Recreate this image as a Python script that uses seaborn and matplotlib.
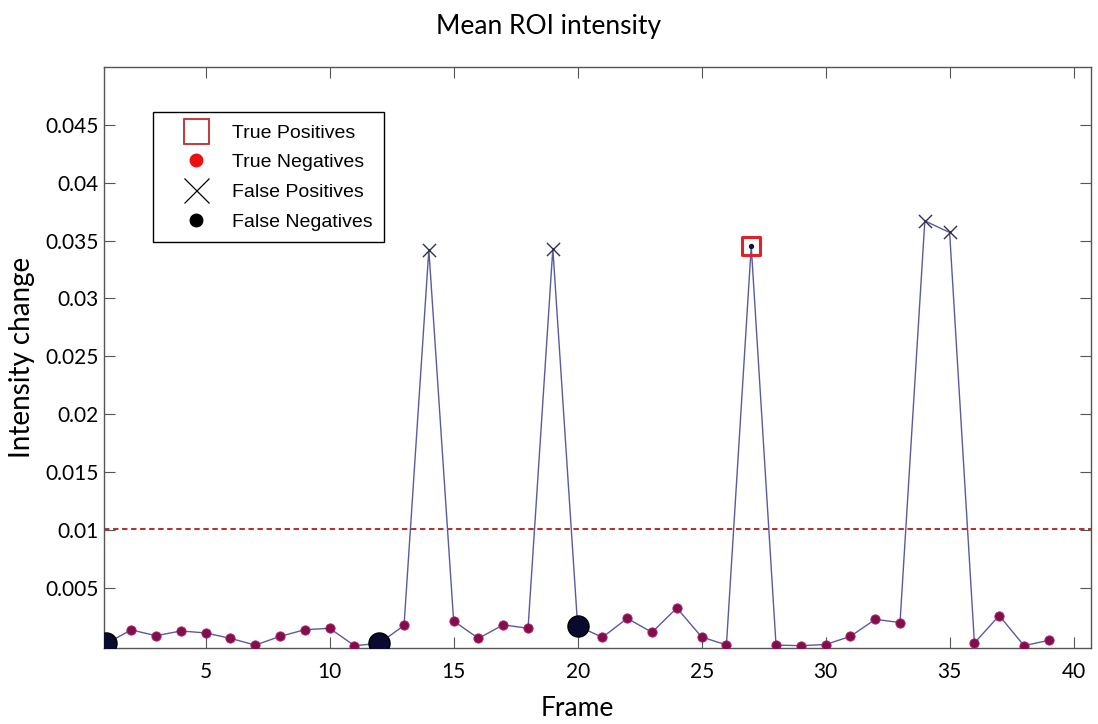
import numpy as np
import pandas as pd
import matplotlib
matplotlib.use('Agg')
import matplotlib.pyplot as plt
from matplotlib.lines import Line2D
import seaborn as sns

# dados
frames = list(range(1, 40))
intensity = [0.0002, 0.00136, 0.00086, 0.00127, 0.0011, 0.00063, 0.00005, 0.0008, 0.00138, 0.0015,
             0.0, 0.0002, 0.00175, 0.0342, 0.00213, 0.00063, 0.0018, 0.0015, 0.0343, 0.0017,
             0.00072, 0.00236, 0.00115, 0.00326, 0.00075, 0.00006, 0.0345, 0.00005, 0.0, 0.0001,
             0.0008, 0.00227, 0.002, 0.0367, 0.0357, 0.00023, 0.0026, 0.0, 0.00046]
classes = ['FN', 'TN', 'TN', 'TN', 'TN', 'TN', 'TN', 'TN', 'TN', 'TN',
           'TN', 'FN', 'TN', 'FP', 'TN', 'TN', 'TN', 'TN', 'FP', 'FN',
           'TN', 'TN', 'TN', 'TN', 'TN', 'TN', 'TP', 'TN', 'TN', 'TN',
           'TN', 'TN', 'TN', 'FP', 'FP', 'TN', 'TN', 'TN', 'TN']
threshold = 0.0101
legend_labels = ['True Positives', 'True Negatives', 'False Positives', 'False Negatives']

df = pd.DataFrame({'frame': frames, 'intensity': intensity, 'classe': classes})

sns.set_theme(style="white")
plt.rcParams['font.family'] = ['Lato', 'DejaVu Sans']
plt.rcParams['text.color'] = 'black'
plt.rcParams['axes.labelcolor'] = 'black'
plt.rcParams['xtick.color'] = '#555555'
plt.rcParams['ytick.color'] = '#555555'
plt.rcParams['xtick.labelcolor'] = 'black'
plt.rcParams['ytick.labelcolor'] = 'black'

fig = plt.figure(figsize=(10.98, 7.24), dpi=100)
ax = fig.add_axes([0.0947, 0.105, 0.8989, 0.8025])

line_col = '#5a5aa0'
sns.lineplot(data=df, x='frame', y='intensity', color=line_col, linewidth=1.0, ax=ax, zorder=2)
ax.axhline(threshold, color='#b01c1c', linestyle=(0, (3, 2)), linewidth=1.3, zorder=1)

tn = df[df.classe == 'TN']
sns.scatterplot(data=tn, x='frame', y='intensity', color='#7d1050', edgecolor='#c0205a',
                s=45, linewidth=0.6, ax=ax, zorder=3)
fn = df[df.classe == 'FN']
sns.scatterplot(data=fn, x='frame', y='intensity', color='#0a0a30', edgecolor='black',
                s=230, linewidth=1.0, ax=ax, zorder=3)
fp = df[df.classe == 'FP']
sns.scatterplot(data=fp, x='frame', y='intensity', marker='x', color='#30305a',
                s=90, linewidth=1.0, ax=ax, zorder=3)
tp = df[df.classe == 'TP']
sns.scatterplot(data=tp, x='frame', y='intensity', marker='s', facecolor='none', edgecolor='#e0202a',
                s=170, linewidth=2.2, ax=ax, zorder=4)
ax.scatter(tp.frame, tp.intensity, color='#101040', s=8, zorder=5)

ax.set_xlim(0.9, 40.7)
ax.set_ylim(-0.0002, 0.0500)
ax.set_xticks([5, 10, 15, 20, 25, 30, 35, 40])
ax.set_yticks([0.005, 0.01, 0.015, 0.02, 0.025, 0.03, 0.035, 0.04, 0.045])
ax.set_yticklabels(['0.005', '0.01', '0.015', '0.02', '0.025', '0.03', '0.035', '0.04', '0.045'])
ax.tick_params(direction='in', length=8, width=0.8, labelsize=15,
               top=True, right=True, bottom=True, left=True)
ax.tick_params(axis='x', pad=10)
ax.tick_params(axis='y', pad=4)
for s in ax.spines.values():
    s.set_color('#555555')
    s.set_linewidth(1.0)

ax.set_xlabel('Frame', fontsize=19)
ax.set_ylabel('Intensity change', fontsize=20)
ax.xaxis.set_label_coords(0.48, -0.082)
ax.yaxis.set_label_coords(-0.07, 0.5)
fig.suptitle('Mean ROI intensity', fontsize=19, y=0.98)

handles = [
    Line2D([], [], marker='s', linestyle='none', markersize=18, markerfacecolor='none',
           markeredgecolor='#c82828', markeredgewidth=1.3),
    Line2D([], [], marker='o', linestyle='none', markersize=9, color='#ee1010'),
    Line2D([], [], marker='x', linestyle='none', markersize=18, color='black', markeredgewidth=0.9),
    Line2D([], [], marker='o', linestyle='none', markersize=9, color='black'),
]
leg = ax.legend(handles, legend_labels, loc='upper left', bbox_to_anchor=(0.05, 0.922),
                frameon=True, fancybox=False, edgecolor='black', framealpha=1,
                prop={'family': 'Liberation Sans', 'size': 14}, handlelength=3.2,
                handletextpad=0.25, labelspacing=0.62, borderpad=0.6, borderaxespad=0)
leg.get_frame().set_linewidth(1.0)

plt.savefig('out.png', dpi=100)
